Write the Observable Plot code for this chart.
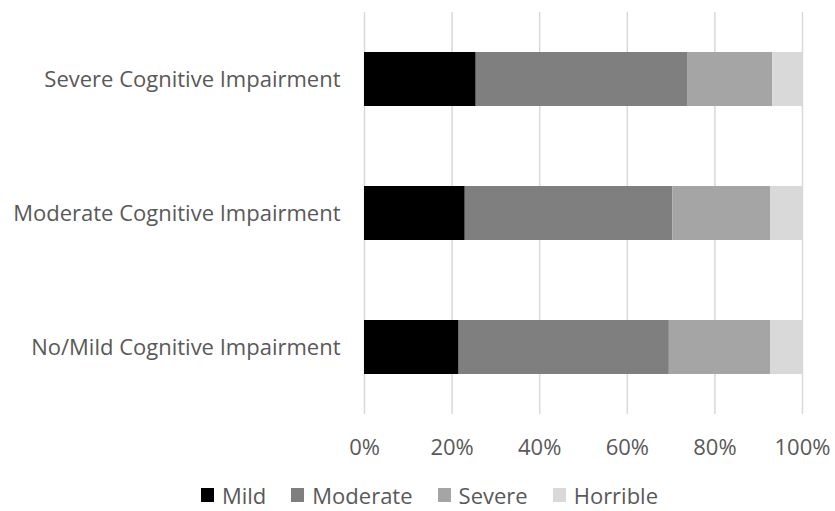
<!DOCTYPE html>
<html>
<head>
<meta charset="utf-8">
<script src="https://cdn.jsdelivr.net/npm/d3@7"></script>
<script src="https://cdn.jsdelivr.net/npm/@observablehq/plot@0.6"></script>
<style>
  html, body { margin: 0; padding: 0; background: #fff; }
  body { width: 835px; height: 511px; overflow: hidden; font-family: "Open Sans", sans-serif; }
  #legend { display: flex; justify-content: center; align-items: center; font-size: 22px; color: #595959; height: 41px; margin-top: 6px; margin-left: 24px; }
  .item { display: flex; align-items: center; margin: 0 12.5px; }
  .sw { width: 13px; height: 14px; margin-right: 8px; display: inline-block; }
</style>
</head>
<body>
<div id="chart"></div>
<div id="legend"></div>
<script>
const categories = ["Severe Cognitive Impairment", "Moderate Cognitive Impairment", "No/Mild Cognitive Impairment"];
const levels = ["Mild", "Moderate", "Severe", "Horrible"];
const colors = ["#000000", "#7f7f7f", "#a5a5a5", "#d9d9d9"];
const mild = [25.5, 23.0, 21.6];
const moderate = [48.4, 47.4, 48.0];
const severe = [19.3, 22.3, 23.1];
const horrible = [6.8, 7.3, 7.3];
const xTicks = [0, 20, 40, 60, 80, 100];

const series = [mild, moderate, severe, horrible];
const rows = [];
categories.forEach((c, i) => {
  levels.forEach((l, j) => rows.push({category: c, level: l, value: series[j][i]}));
});

const chart = Plot.plot({
  width: 835,
  height: 468,
  marginTop: 12,
  marginBottom: 54,
  marginLeft: 364,
  marginRight: 33,
  style: {fontFamily: "Open Sans", fontSize: "22px", color: "#595959", background: "#fff"},
  x: {domain: [0, 100], ticks: xTicks, tickFormat: d => d + "%", label: null},
  y: {domain: categories, paddingInner: 0.6, paddingOuter: 0.3, label: null},
  color: {domain: levels, range: colors},
  marks: [
    Plot.gridX(xTicks, {stroke: "#d9d9d9", strokeOpacity: 1, strokeWidth: 1.5}),
    Plot.axisX({ticks: xTicks, tickFormat: d => d + "%", tickSize: 0, tickPadding: 25, fontSize: 22, label: null}),
    Plot.axisY({tickSize: 0, tickPadding: 24, fontSize: 22, label: null}),
    Plot.barX(rows, {x: "value", y: "category", fill: "level", order: levels})
  ]
});
document.getElementById("chart").appendChild(chart);

const legend = document.getElementById("legend");
levels.forEach((l, j) => {
  const it = document.createElement("div");
  it.className = "item";
  const sw = document.createElement("span");
  sw.className = "sw";
  sw.style.background = colors[j];
  it.appendChild(sw);
  it.appendChild(document.createTextNode(l));
  legend.appendChild(it);
});
</script>
</body>
</html>
